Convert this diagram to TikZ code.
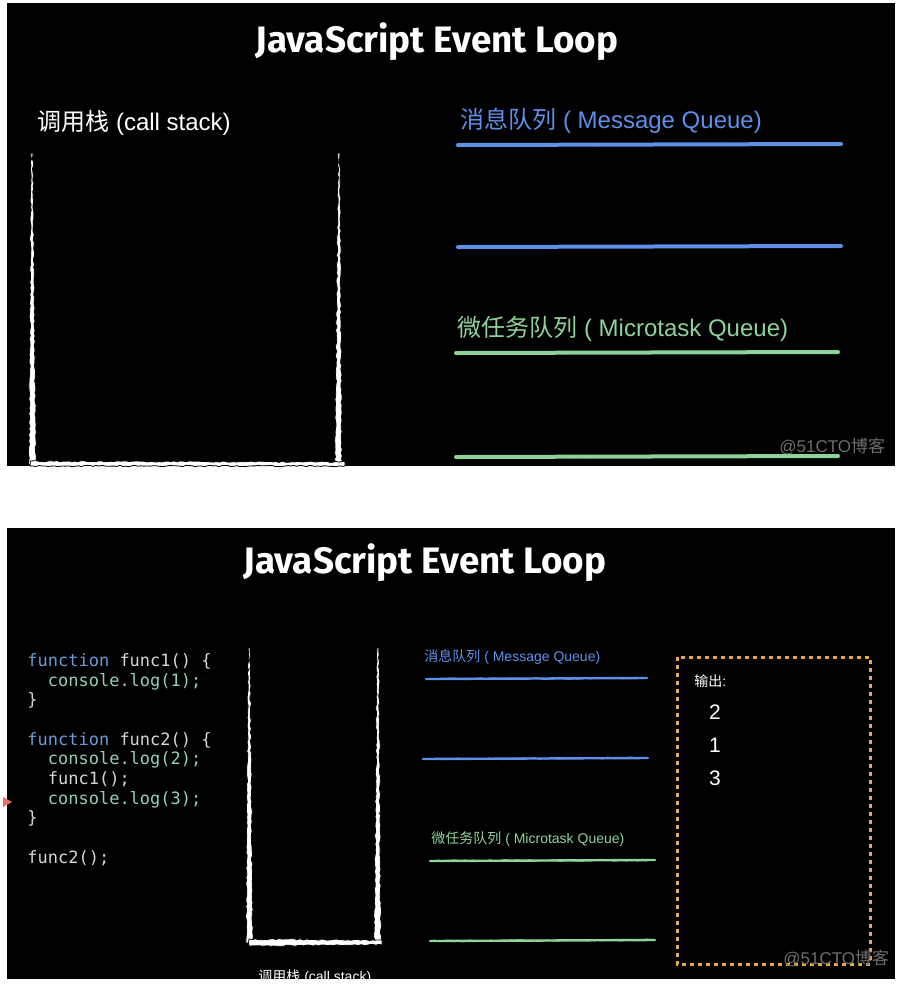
\documentclass[tikz,border=0pt]{standalone}
\usepackage{fontspec}
\setmainfont{Liberation Sans}
\setmonofont{DejaVu Sans Mono}
\newfontfamily\cjk{Noto Sans CJK SC}
\newfontfamily\titlefont{Fira Sans}
\usetikzlibrary{decorations.pathmorphing}

\definecolor{mqblue}{HTML}{5E90EA}
\definecolor{mtgreen}{HTML}{8DD39B}
\definecolor{kwblue}{HTML}{6B9BD6}
\definecolor{logteal}{HTML}{8FD1B5}
\definecolor{codegray}{HTML}{D6D6D6}
\definecolor{outorange}{HTML}{E8A84C}
\definecolor{wmgray}{HTML}{6E6E6E}
\definecolor{markred}{HTML}{E86F6A}

\tikzset{
  panel/.style={fill=black},
  titulo/.style={white,inner sep=0,font=\titlefont\bfseries\fontsize{#1}{#1}\selectfont},
  rotulo/.style={inner sep=0,anchor=west,font=\fontsize{#1}{#1}\selectfont},
  giz/.style={fill=white,decorate,decoration={random steps,segment length=1.5pt,amplitude=0.35pt}},
  fila/.style={line width=#1,line cap=round,
    postaction={draw,line width=0.5pt,decorate,decoration={random steps,segment length=2pt,amplitude=0.5pt}}},
  marca/.style={wmgray,inner sep=0,font=\fontsize{8.5}{8.5}\selectfont},
}

\begin{document}
\begin{tikzpicture}[x=0.5pt,y=-0.5pt]
  \useasboundingbox[fill=white] (0,0) rectangle (913,993);

  %quadro de cima
  \fill[panel] (7,3) rectangle (895,466);
  \node[titulo=18.4] (tit1) at (437,42) {JavaScript Event Loop};
  \node[rotulo=12,white] (pilha1) at (37,123) {{\cjk 调用栈} (call stack)};
  %pilha
  \draw[giz] (31,153) -- (33,153) -- (36,465) -- (29,465) -- cycle;
  \draw[giz] (338,153) -- (340,153) -- (342,465) -- (335,465) -- cycle;
  \draw[giz] (30,461) -- (345,462) -- (345,466) -- (30,466) -- cycle;
  %filas
  \node[rotulo=12,mqblue] (msg1) at (460,121) {{\cjk 消息队列} ( Message Queue)};
  \draw[mqblue,fila=2pt] (458,145) -- (841,144);
  \draw[mqblue,fila=2pt] (458,247) -- (841,246);
  \node[rotulo=12,mtgreen] (micro1) at (457,329) {{\cjk 微任务队列} ( Microtask Queue)};
  \draw[mtgreen,fila=2pt] (456,353) -- (838,352);
  \draw[mtgreen,fila=2pt] (456,457) -- (838,456);
  \node[marca,anchor=west] (wm1) at (779,446) {@51CTO{\cjk 博客}};

  %quadro de baixo
  \fill[panel] (7,528) rectangle (895,979);
  \node[titulo=18.4] (tit2) at (425,563) {JavaScript Event Loop};
  %codigo
  \node[inner sep=0,anchor=north west,align=left,text=codegray,
        font=\ttfamily\fontsize{8.5}{9.85}\selectfont] (codigo) at (27,653) {%
    \textcolor{kwblue}{function} func1() \{\\
    \hphantom{xx}\textcolor{logteal}{console.log(1);}\\
    \}\\
    \mbox{}\\
    \textcolor{kwblue}{function} func2() \{\\
    \hphantom{xx}\textcolor{logteal}{console.log(2);}\\
    \hphantom{xx}func1();\\
    \hphantom{xx}\textcolor{logteal}{console.log(3);}\\
    \}\\
    \mbox{}\\
    func2();};
  \fill[markred] (3,797) -- (12,802) -- (3,807) -- cycle;
  %pilha
  \draw[giz] (248,648) -- (250,648) -- (253,943) -- (246,943) -- cycle;
  \draw[giz] (377,648) -- (379,648) -- (381,943) -- (374,943) -- cycle;
  \draw[giz] (249,939) -- (382,940) -- (382,945) -- (249,946) -- cycle;
  \begin{scope}
    \clip (7,528) rectangle (895,979);
    \node[rotulo=7,white] (pilha2) at (258,977) {{\cjk 调用栈} (call stack)};
  \end{scope}
  %filas
  \node[rotulo=7,mqblue] (msg2) at (424,657) {{\cjk 消息队列} ( Message Queue)};
  \draw[mqblue,fila=1.2pt] (426,679) -- (647,678);
  \draw[mqblue,fila=1.2pt] (423,759) -- (648,758);
  \node[rotulo=7,mtgreen] (micro2) at (431,839) {{\cjk 微任务队列} ( Microtask Queue)};
  \draw[mtgreen,fila=1.2pt] (430,861) -- (655,860);
  \draw[mtgreen,fila=1.2pt] (430,941) -- (655,940);
  %saida
  \draw[outorange,line width=1.5pt,dash pattern=on 2pt off 2pt] (677,657) rectangle (870,964);
  \node[rotulo=7,white] (saida) at (694,681) {{\cjk 输出}:};
  \node[white,inner sep=0,font=\fontsize{10.5}{10.5}\selectfont] (n2) at (715,712) {2};
  \node[white,inner sep=0,font=\fontsize{10.5}{10.5}\selectfont] (n1) at (715,745) {1};
  \node[white,inner sep=0,font=\fontsize{10.5}{10.5}\selectfont] (n3) at (715,778) {3};
  \node[marca,anchor=west] (wm2) at (783,958) {@51CTO{\cjk 博客}};
\end{tikzpicture}
\end{document}
